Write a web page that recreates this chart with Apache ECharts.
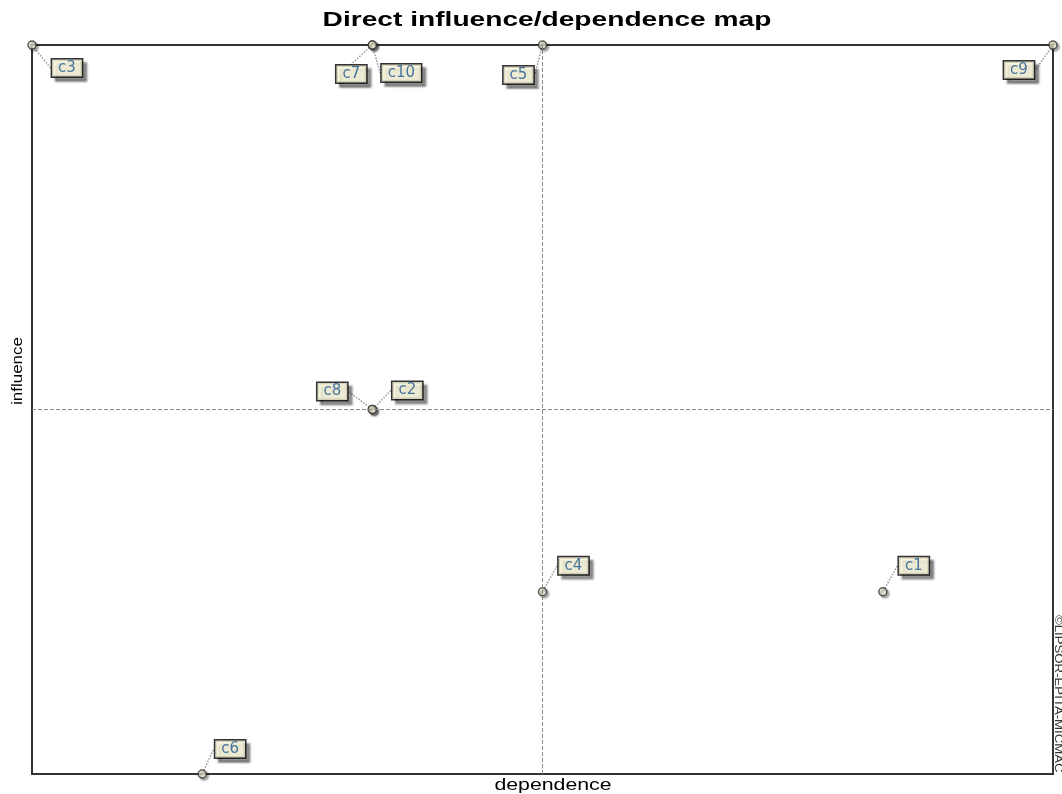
<!DOCTYPE html>
<html>
<head>
<meta charset="utf-8">
<script src="https://cdn.jsdelivr.net/npm/echarts@6/dist/echarts.min.js"></script>
<style>html,body{margin:0;padding:0;background:#fff;}#main{width:1062px;height:794px;}</style>
</head>
<body>
<div id="main"></div>
<script>
var names = ['c1','c2','c3','c4','c5','c6','c7','c8','c9','c10'];
var dependence = [6,3,1,4,4,2,3,3,7,3];
var influence = [2,3,5,2,5,1,5,3,5,5];
var labelOffsets = [[31,-26],[35,-19],[35,23],[31,-26],[-24,30],[28,-25],[-21,29],[-40,-18],[-34,25],[29,28]];

var chart = echarts.init(document.getElementById('main'));
var data = names.map(function(n,i){ return {name:n, value:[dependence[i], influence[i]]}; });
chart.setOption({
  animation:false,
  grid:{left:32, right:9, top:45, bottom:20, show:true, borderColor:'#333', borderWidth:2, backgroundColor:'#fff'},
  xAxis:{type:'value', min:1, max:7, axisLine:{show:false}, axisTick:{show:false}, axisLabel:{show:false}, splitLine:{show:false}},
  yAxis:{type:'value', min:1, max:5, axisLine:{show:false}, axisTick:{show:false}, axisLabel:{show:false}, splitLine:{show:false}},
  graphic:[
    {type:'text', x:547, y:20, scaleX:1.34, style:{text:'Direct influence/dependence map', font:'bold 21px "Liberation Sans", Arial', fill:'#000', textAlign:'center', textVerticalAlign:'middle'}},
    {type:'text', x:553, y:786, scaleX:1.33, style:{text:'dependence', font:'16px "Liberation Sans", Arial', fill:'#000', textAlign:'center', textVerticalAlign:'middle'}},
    {type:'text', x:18, y:371, rotation:Math.PI/2, scaleX:1.13, style:{text:'influence', font:'15px "Liberation Sans", Arial', fill:'#000', textAlign:'center', textVerticalAlign:'middle'}},
    {type:'text', x:1064, y:615, rotation:-Math.PI/2, scaleX:1.2, style:{text:'\u00a9LIPSOR-EPITA-MICMAC', font:'11px "Liberation Sans", Arial', fill:'#333'}}
  ],
  series:[{
    type:'scatter', clip:false, symbol:'circle', symbolSize:8,
    itemStyle:{color:'#f2f0d4', borderColor:'#333', borderWidth:1.5, shadowColor:'rgba(0,0,0,0.4)', shadowOffsetX:2, shadowOffsetY:2, shadowBlur:2},
    data:data,
    label:{show:true, position:'inside', formatter:'{b}', fontFamily:'DejaVu Sans', fontSize:15, color:'#1a558f',
      backgroundColor:'#fffbe0', borderColor:'#000', borderWidth:1.5, padding:[1,6,1,6],
      shadowColor:'rgba(0,0,0,0.45)', shadowOffsetX:4, shadowOffsetY:4, shadowBlur:2},
    labelLine:{show:true, lineStyle:{color:'#999', type:'dotted', width:1.5}},
    labelLayout:function(p){ var o = labelOffsets[p.dataIndex]; return {dx:o[0], dy:o[1]}; },
    emphasis:{disabled:true},
    markLine:{silent:true, symbol:'none', label:{show:false},
      lineStyle:{color:'#888', type:'dashed', width:1},
      data:[{xAxis:4},{yAxis:3}]}
  }]
});
</script>
</body>
</html>
